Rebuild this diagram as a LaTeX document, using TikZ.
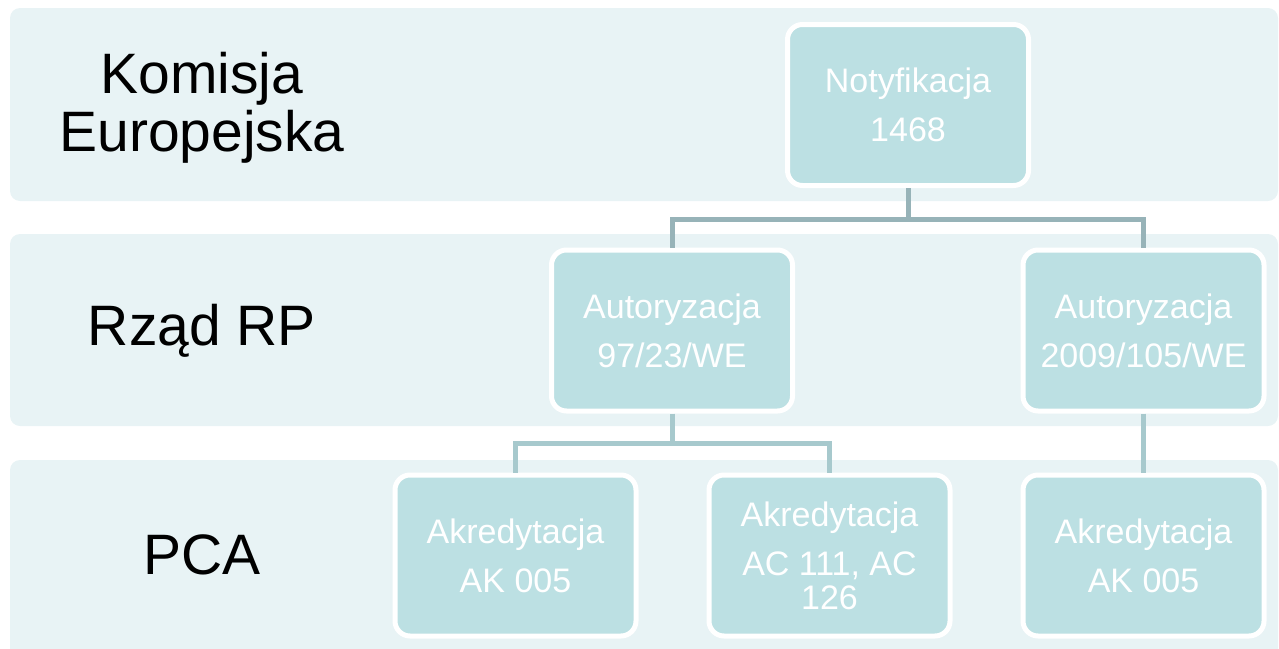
\documentclass[tikz,border=0pt]{standalone}
\usepackage{fontspec}
\setmainfont{Liberation Sans}
\definecolor{tlopas}{HTML}{E8F3F5}
\definecolor{tloblok}{HTML}{BCE0E3}
\definecolor{linia1}{HTML}{97B3B8}
\definecolor{linia2}{HTML}{A7C9CD}
\begin{document}
\begin{tikzpicture}[
                x=1pt, y=-1pt,
                pas/.style={fill=tlopas, rounded corners=10pt},
                blok/.style={shape=rectangle, rounded corners=15pt, draw=white, line width=5pt,
                    fill=tloblok, text=white, minimum width=241pt, minimum height=161pt,
                    align=center, font=\fontsize{34}{36}\selectfont},
                etykieta/.style={align=center, font=\fontsize{57}{58}\selectfont},
                laczenie/.style={line width=5pt},
            ]
            \useasboundingbox (0, 0) rectangle (1279, 648);
            \fill[pas] (10, 8) rectangle (1278, 201);
            \fill[pas] (10, 234) rectangle (1278, 426);
            \fill[pas] (10, 460) rectangle (1278, 670);
            \node[etykieta] (ke) at (202, 108) {Komisja\\Europejska};
            \node[etykieta] (rp) at (202, 331) {Rząd RP};
            \node[etykieta] (pca) at (202, 555) {PCA};
            \node[blok] (notyf) at (908, 105) {Notyfikacja\\[13pt]1468};
            \node[blok] (aut1) at (672, 330.5) {Autoryzacja\\[13pt]97/23/WE};
            \node[blok] (aut2) at (1143.5, 330.5) {Autoryzacja\\[13pt]2009/105/WE};
            \node[blok] (akr1) at (515.5, 555.5) {Akredytacja\\[13pt]AK 005};
            \node[blok] (akr2) at (829.5, 555.5) {Akredytacja\\[13pt]AC 111, AC\\[-2pt]126};
            \node[blok] (akr3) at (1143.5, 555.5) {Akredytacja\\[13pt]AK 005};
            \coordinate (roz1) at (908, 219);
            \coordinate (roz2) at (672, 443);
            \draw[laczenie, draw=linia1] (notyf.south) -- (roz1) -| (aut1.north);
            \draw[laczenie, draw=linia1] (roz1) -| (aut2.north);
            \draw[laczenie, draw=linia2] (aut1.south) -- (roz2) -| (akr1.north);
            \draw[laczenie, draw=linia2] (roz2) -| (akr2.north);
            \draw[laczenie, draw=linia2] (aut2.south) -- (akr3.north);
        \end{tikzpicture}
\end{document}
